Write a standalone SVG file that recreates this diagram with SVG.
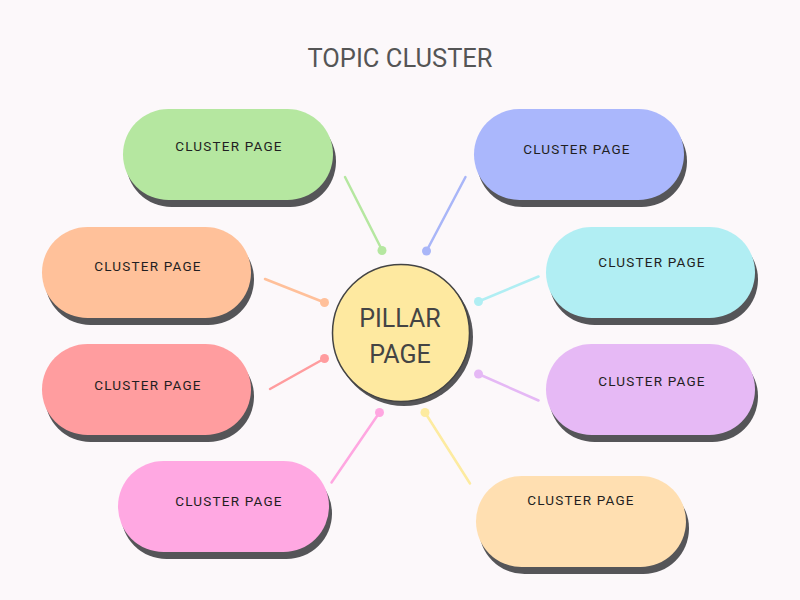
<svg xmlns="http://www.w3.org/2000/svg" width="800" height="600" viewBox="0 0 800 600">
<style>
.shadow{fill:#555558}
.label{font-family:Roboto,"Liberation Sans",sans-serif;font-size:13.5px;letter-spacing:1.2px;fill:#1f1f22;text-anchor:middle;font-weight:400}
.title{font-family:Roboto,"Liberation Sans",sans-serif;font-size:25.5px;fill:#555;text-anchor:middle}
.pillar{font-family:Roboto,"Liberation Sans",sans-serif;font-size:25px;fill:#444;text-anchor:middle}
.conn line{stroke-width:2.5;stroke-linecap:round}
</style>
<rect width="800" height="600" fill="#FCF8FA"/>
<text id="title" class="title" x="400" y="67">TOPIC CLUSTER</text>
<g id="connectors" class="conn">
<line x1="345" y1="177" x2="382" y2="250" stroke="#B5E7A0"/><circle cx="382" cy="250.5" r="4.5" fill="#B5E7A0"/>
<line x1="465.5" y1="177" x2="426.5" y2="251" stroke="#A9B6F8"/><circle cx="426.5" cy="251" r="4.5" fill="#A9B6F8"/>
<line x1="265" y1="279" x2="324.5" y2="302.5" stroke="#FFC09A"/><circle cx="324.5" cy="302.5" r="4.5" fill="#FFC09A"/>
<line x1="538.5" y1="276.5" x2="478.5" y2="301.5" stroke="#B0EEF3"/><circle cx="478.5" cy="301.5" r="4.5" fill="#B0EEF3"/>
<line x1="270" y1="389" x2="324.5" y2="358.5" stroke="#FF9C9E"/><circle cx="324.5" cy="358.5" r="4.5" fill="#FF9C9E"/>
<line x1="538.5" y1="400.5" x2="478.5" y2="374" stroke="#E5B8F5"/><circle cx="478.5" cy="374" r="4.5" fill="#E5B8F5"/>
<line x1="331.5" y1="482.5" x2="379.5" y2="412.5" stroke="#FFA7E1"/><circle cx="379.5" cy="412.5" r="4.5" fill="#FFA7E1"/>
<line x1="470" y1="483.5" x2="425" y2="412.5" stroke="#FDEBA0"/><circle cx="425" cy="412.5" r="4.5" fill="#FDEBA0"/>
</g>
<g id="pillar">
<circle cx="404" cy="337" r="69" class="shadow"/>
<circle cx="401" cy="333" r="68.5" fill="#FEE9A0" stroke="#444" stroke-width="1.5"/>
<text class="pillar" x="400" y="327">PILLAR</text>
<text class="pillar" x="400" y="363">PAGE</text>
</g>
<g id="cluster-green">
<rect x="126" y="116" width="210" height="91" rx="45.5" class="shadow"/>
<rect x="123" y="109" width="210" height="91" rx="45.5" fill="#B5E7A0"/>
<text class="label" x="229" y="151">CLUSTER PAGE</text>
</g>
<g id="cluster-blue">
<rect x="477" y="116" width="210" height="91" rx="45.5" class="shadow"/>
<rect x="474" y="109" width="210" height="91" rx="45.5" fill="#AAB7FC"/>
<text class="label" x="577" y="154">CLUSTER PAGE</text>
</g>
<g id="cluster-orange">
<rect x="45" y="234" width="209" height="91" rx="45.5" class="shadow"/>
<rect x="42" y="227" width="209" height="91" rx="45.5" fill="#FFC19A"/>
<text class="label" x="148" y="271">CLUSTER PAGE</text>
</g>
<g id="cluster-cyan">
<rect x="549" y="234" width="209" height="91" rx="45.5" class="shadow"/>
<rect x="546" y="227" width="209" height="91" rx="45.5" fill="#B1EEF3"/>
<text class="label" x="652" y="267">CLUSTER PAGE</text>
</g>
<g id="cluster-red">
<rect x="45" y="351" width="209" height="91" rx="45.5" class="shadow"/>
<rect x="42" y="344" width="209" height="91" rx="45.5" fill="#FF9D9F"/>
<text class="label" x="148" y="390">CLUSTER PAGE</text>
</g>
<g id="cluster-purple">
<rect x="549" y="351" width="209" height="91" rx="45.5" class="shadow"/>
<rect x="546" y="344" width="209" height="91" rx="45.5" fill="#E6B9F5"/>
<text class="label" x="652" y="386">CLUSTER PAGE</text>
</g>
<g id="cluster-pink">
<rect x="121" y="468" width="211" height="91" rx="45.5" class="shadow"/>
<rect x="118" y="461" width="211" height="91" rx="45.5" fill="#FFA8E2"/>
<text class="label" x="229" y="506">CLUSTER PAGE</text>
</g>
<g id="cluster-yellow">
<rect x="479" y="483" width="210" height="91" rx="45.5" class="shadow"/>
<rect x="476" y="476" width="210" height="91" rx="45.5" fill="#FFDFB1"/>
<text class="label" x="581" y="505">CLUSTER PAGE</text>
</g>
</svg>
